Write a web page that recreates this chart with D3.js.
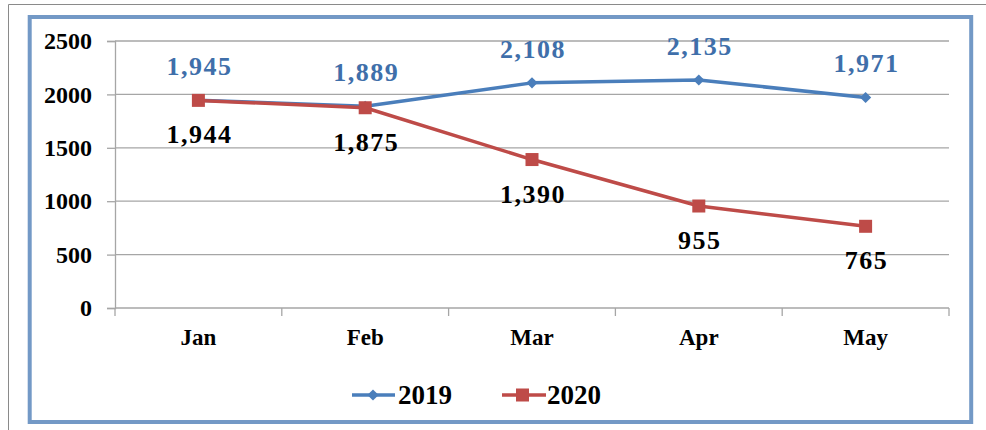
<!DOCTYPE html>
<html>
<head>
<meta charset="utf-8">
<script src="https://cdn.jsdelivr.net/npm/d3@7"></script>
<style>
  body { margin: 0; background: #fff; }
  svg text { font-family: "Liberation Serif", "Times New Roman", serif; font-weight: bold; }
</style>
</head>
<body>
<svg id="chart" width="986" height="430"></svg>
<script>
// chart data
const months = ["Jan", "Feb", "Mar", "Apr", "May"];
const values2019 = [1945, 1889, 2108, 2135, 1971];
const values2020 = [1944, 1875, 1390, 955, 765];
const yTicks = [0, 500, 1000, 1500, 2000, 2500];

const svg = d3.select("#chart");

// outer frame lines (page edge)
svg.append("path")
    .attr("d", "M8.5,430 V4.5 H986")
    .attr("fill", "none")
    .attr("stroke", "#8a8a8a")
    .attr("stroke-width", 1);

// blue chart border
svg.append("rect")
    .attr("x", 29.7).attr("y", 17)
    .attr("width", 941.5).attr("height", 405)
    .attr("fill", "#fff")
    .attr("stroke", "#7399c6")
    .attr("stroke-width", 4);

const margin = { left: 115, right: 37, top: 41, bottom: 122 };
const width = 986 - margin.left - margin.right;
const height = 430 - margin.top - margin.bottom;
const g = svg.append("g").attr("transform", `translate(${margin.left},${margin.top})`);

const x = d3.scaleBand().domain(months).range([0, width]);
const y = d3.scaleLinear().domain([0, 2500]).range([height, 0]);

// gridlines
g.selectAll(".grid")
    .data(yTicks.filter(d => d > 0))
    .enter().append("line")
    .attr("x1", 0).attr("x2", width)
    .attr("y1", d => y(d)).attr("y2", d => y(d))
    .attr("stroke", "#a6a6a6")
    .attr("stroke-width", 1.3);

// y axis
const yAxis = g.append("g")
    .call(d3.axisLeft(y).tickValues(yTicks).tickSize(8).tickPadding(15).tickFormat(d3.format("d")));
yAxis.select(".domain").attr("stroke", "#a6a6a6").attr("stroke-width", 1.3);
yAxis.selectAll(".tick line").attr("stroke", "#a6a6a6").attr("stroke-width", 1.3);
yAxis.selectAll("text").attr("font-size", 24).attr("fill", "#000")
    .attr("font-family", "Liberation Serif").attr("font-weight", "bold");

// x axis line and category boundary ticks
g.append("line")
    .attr("x1", 0).attr("x2", width)
    .attr("y1", height).attr("y2", height)
    .attr("stroke", "#a6a6a6").attr("stroke-width", 1.3);
const bounds = months.map(m => x(m)).concat([width]);
g.selectAll(".xtick")
    .data(bounds)
    .enter().append("line")
    .attr("x1", d => d).attr("x2", d => d)
    .attr("y1", height).attr("y2", height + 8)
    .attr("stroke", "#a6a6a6").attr("stroke-width", 1.3);
g.selectAll(".xlabel")
    .data(months)
    .enter().append("text")
    .attr("x", d => x(d) + x.bandwidth() / 2)
    .attr("y", height + 37)
    .attr("text-anchor", "middle")
    .attr("font-size", 23)
    .attr("fill", "#000")
    .text(d => d);

const cx = m => x(m) + x.bandwidth() / 2;
const line = d3.line()
    .x((d, i) => cx(months[i]))
    .y(d => y(d));

const blue = "#4a7ebb", red = "#be4b48";

// 2019 series
g.append("path")
    .datum(values2019)
    .attr("fill", "none")
    .attr("stroke", blue)
    .attr("stroke-width", 3.5)
    .attr("stroke-linejoin", "round")
    .attr("d", line);
g.selectAll(".m2019")
    .data(values2019)
    .enter().append("path")
    .attr("transform", (d, i) => `translate(${cx(months[i])},${y(d)})`)
    .attr("d", d3.symbol(d3.symbolDiamond2, 80))
    .attr("fill", blue);

// 2020 series
g.append("path")
    .datum(values2020)
    .attr("fill", "none")
    .attr("stroke", red)
    .attr("stroke-width", 3.5)
    .attr("stroke-linejoin", "round")
    .attr("d", line);
g.selectAll(".m2020")
    .data(values2020)
    .enter().append("rect")
    .attr("x", (d, i) => cx(months[i]) - 6.5)
    .attr("y", d => y(d) - 6.5)
    .attr("width", 13).attr("height", 13)
    .attr("fill", red);

// data labels
const fmt = d3.format(",");
g.selectAll(".l2019")
    .data(values2019)
    .enter().append("text")
    .attr("x", (d, i) => cx(months[i]) + 1)
    .attr("y", d => y(d) - 25)
    .attr("text-anchor", "middle")
    .attr("font-size", 26)
    .attr("letter-spacing", 1.5)
    .attr("fill", "#3f6faa")
    .text(d => fmt(d));
g.selectAll(".l2020")
    .data(values2020)
    .enter().append("text")
    .attr("x", (d, i) => cx(months[i]) + 1)
    .attr("y", d => y(d) + 43)
    .attr("text-anchor", "middle")
    .attr("font-size", 26)
    .attr("letter-spacing", 1.5)
    .attr("fill", "#000")
    .text(d => fmt(d));

// legend
const legend = svg.append("g").attr("transform", "translate(352,395)");
legend.append("line").attr("x1", 0).attr("x2", 43).attr("stroke", blue).attr("stroke-width", 3.5);
legend.append("path").attr("transform", "translate(21,0)")
    .attr("d", d3.symbol(d3.symbolDiamond2, 80)).attr("fill", blue);
legend.append("text").attr("x", 46).attr("y", 9).attr("font-size", 27).attr("fill", "#000").text("2019");
legend.append("line").attr("x1", 150).attr("x2", 194).attr("stroke", red).attr("stroke-width", 3.5);
legend.append("rect").attr("x", 164).attr("y", -6.5).attr("width", 13).attr("height", 13).attr("fill", red);
legend.append("text").attr("x", 195).attr("y", 9).attr("font-size", 27).attr("fill", "#000").text("2020");
</script>
</body>
</html>
